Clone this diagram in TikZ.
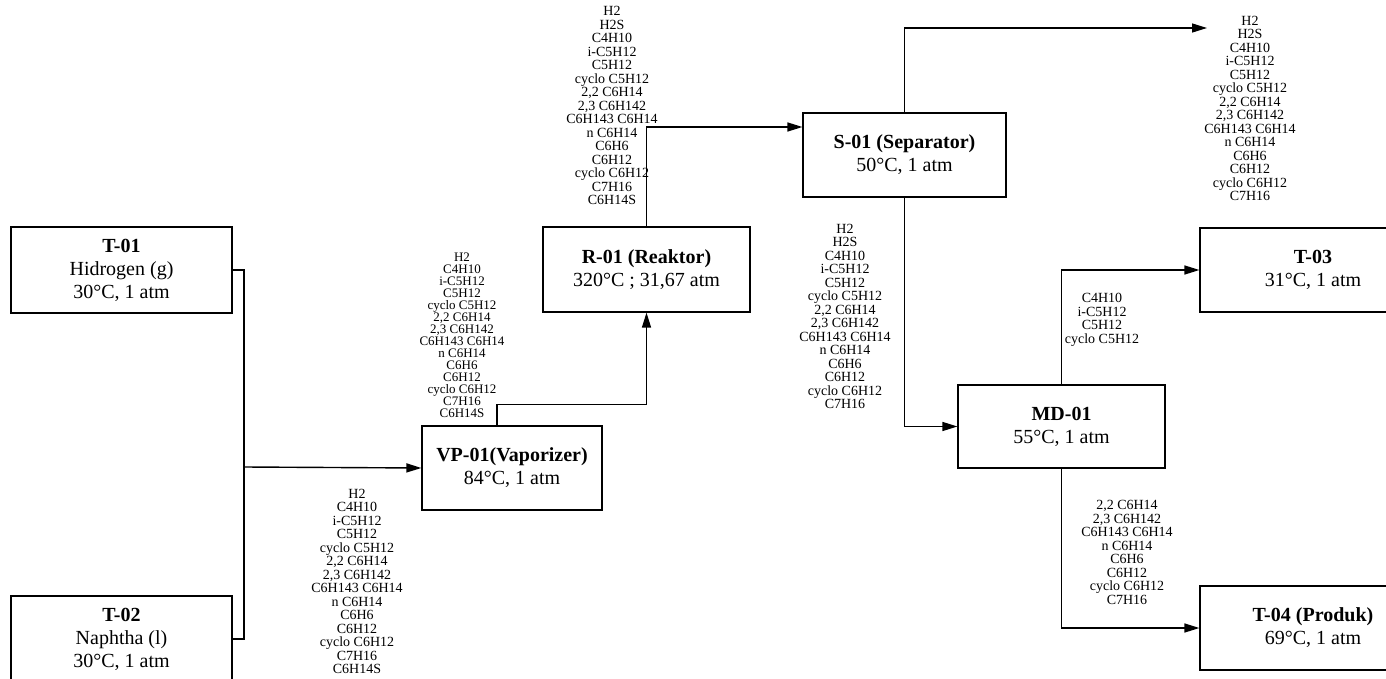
\documentclass[tikz,border=0pt]{standalone}
\usepackage{fontspec}
\setmainfont{Liberation Serif}
\usetikzlibrary{arrows.meta, calc}

\begin{document}
\begin{tikzpicture}[x=0.5pt, y=-0.5pt,
    unit/.style={draw, line width=0.6pt, align=center, font=\fontsize{10}{11.5}\selectfont, inner sep=0pt},
    flow/.style={line width=0.7pt, -{Triangle[length=7.5pt, width=4.5pt]}},
    comp/.style={align=center, font=\fontsize{7}{6.75}\selectfont, inner sep=0pt}]
    \useasboundingbox (0,0) rectangle (1386,679);

    \node [unit, minimum width=110.5pt, minimum height=43pt] (T01) at (121.5,270) {\textbf{T-01}\\Hidrogen (g)\\30°C, 1 atm};
    \node [unit, minimum width=110.5pt, minimum height=43pt] (T02) at (121.5,639) {\textbf{T-02}\\Naphtha (l)\\30°C, 1 atm};
    \node [unit, minimum width=90pt, minimum height=42pt] (VP01) at (512,468) {\textbf{VP-01(Vaporizer)}\\84°C, 1 atm};
    \node [unit, minimum width=103.5pt, minimum height=42.5pt] (R01) at (646.5,269.5) {\textbf{R-01 (Reaktor)}\\320°C ; 31,67 atm};
    \node [unit, minimum width=101.5pt, minimum height=42pt] (S01) at (904.5,155) {\textbf{S-01 (Separator)}\\50°C, 1 atm};
    \node [unit, minimum width=103.5pt, minimum height=41.5pt] (MD01) at (1061.5,426.5) {\textbf{MD-01}\\55°C, 1 atm};
    \node [unit, minimum width=113pt, minimum height=42pt] (T03) at (1313,270) {\textbf{T-03}\\31°C, 1 atm};
    \node [unit, minimum width=113pt, minimum height=42pt] (T04) at (1313,628) {\textbf{T-04 (Produk)}\\69°C, 1 atm};

    \coordinate (mix) at (244,467);
    \coordinate (vapout) at (1207,28);

    \draw [line width=0.7pt] (T01.east) -| (mix);
    \draw [line width=0.7pt] (T02.east) -| (mix);
    \draw [flow] (mix) -- (VP01.west);
    \draw [flow] ([xshift=-7.5pt]VP01.north) -- ++(0,-21) -| (R01.south);
    \draw [flow] (R01.north) |- ([yshift=14pt]S01.west);
    \draw [flow] (S01.north) |- (vapout);
    \draw [flow] (S01.south) |- (MD01.west);
    \draw [flow] (MD01.north) |- (T03.west);
    \draw [flow] (MD01.south) |- (T04.west);

    \node [comp] (feed) at (357,581.5) {H2\\C4H10\\i-C5H12\\C5H12\\cyclo C5H12\\2,2 C6H14\\2,3 C6H142\\C6H143 C6H14\\n C6H14\\C6H6\\C6H12\\cyclo C6H12\\C7H16\\C6H14S};
    \node [comp, font=\fontsize{6.5}{6}\selectfont] (vapor) at (462,335) {H2\\C4H10\\i-C5H12\\C5H12\\cyclo C5H12\\2,2 C6H14\\2,3 C6H142\\C6H143 C6H14\\n C6H14\\C6H6\\C6H12\\cyclo C6H12\\C7H16\\C6H14S};
    \node [comp] (reakout) at (612,105.5) {H2\\H2S\\C4H10\\i-C5H12\\C5H12\\cyclo C5H12\\2,2 C6H14\\2,3 C6H142\\C6H143 C6H14\\n C6H14\\C6H6\\C6H12\\cyclo C6H12\\C7H16\\C6H14S};
    \node [comp] (gasout) at (1250,108.5) {H2\\H2S\\C4H10\\i-C5H12\\C5H12\\cyclo C5H12\\2,2 C6H14\\2,3 C6H142\\C6H143 C6H14\\n C6H14\\C6H6\\C6H12\\cyclo C6H12\\C7H16};
    \node [comp] (liqout) at (845,316.5) {H2\\H2S\\C4H10\\i-C5H12\\C5H12\\cyclo C5H12\\2,2 C6H14\\2,3 C6H142\\C6H143 C6H14\\n C6H14\\C6H6\\C6H12\\cyclo C6H12\\C7H16};
    \node [comp] (distil) at (1102,320) {C4H10\\i-C5H12\\C5H12\\cyclo C5H12};
    \node [comp] (bottom) at (1127,552.5) {2,2 C6H14\\2,3 C6H142\\C6H143 C6H14\\n C6H14\\C6H6\\C6H12\\cyclo C6H12\\C7H16};
\end{tikzpicture}
\end{document}
